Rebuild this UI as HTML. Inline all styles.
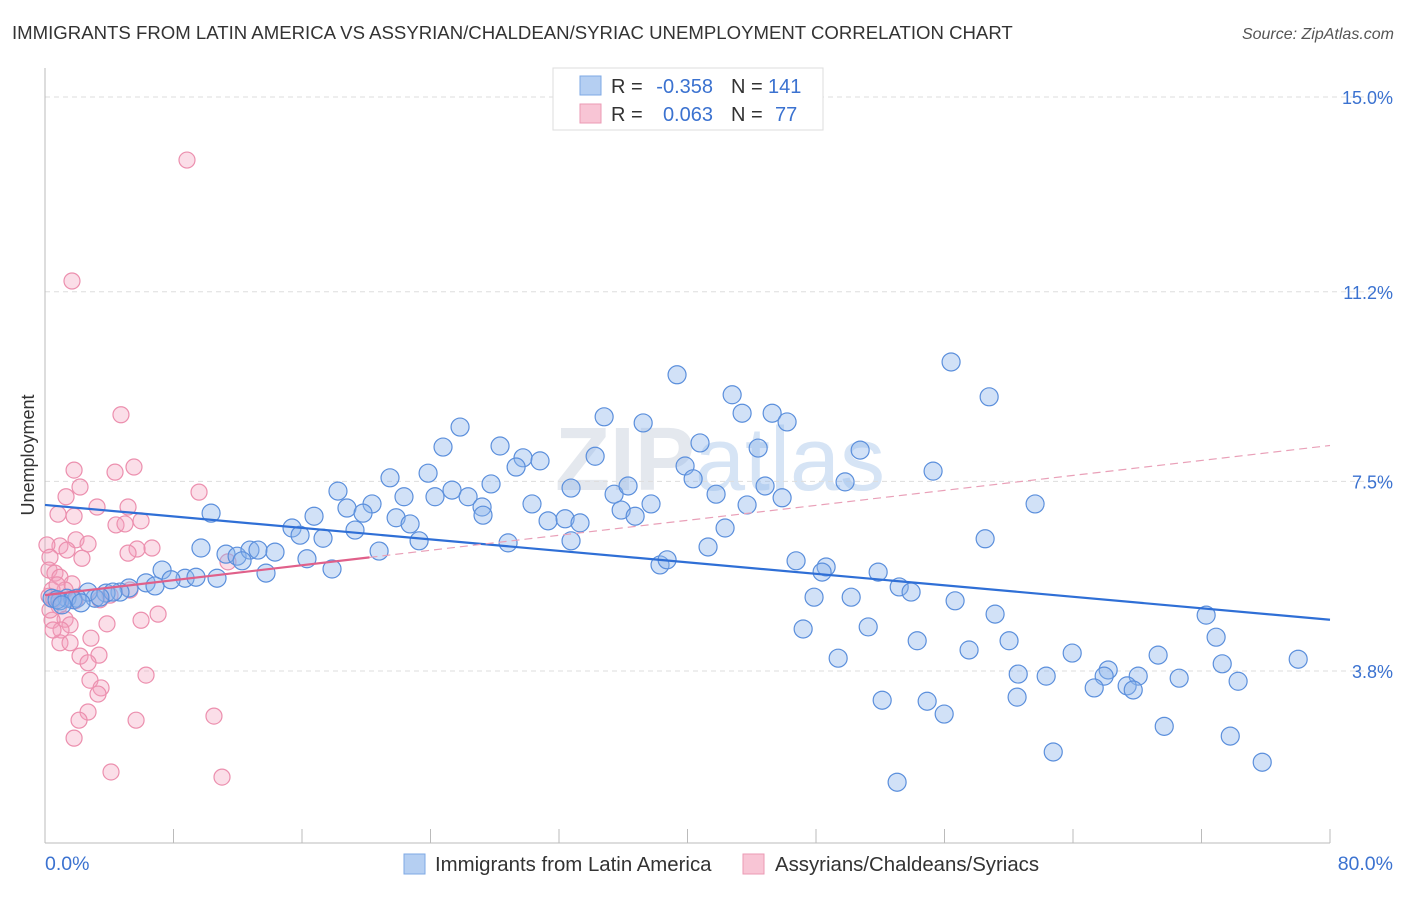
<!DOCTYPE html>
<html><head><meta charset="utf-8"><style>
body{margin:0;background:#fff;font-family:"Liberation Sans",sans-serif}
svg text{font-family:"Liberation Sans",sans-serif}
</style></head><body>
<svg id="chart" width="1406" height="892" xmlns="http://www.w3.org/2000/svg">
<text x="12" y="39" font-size="18.6" fill="#333">IMMIGRANTS FROM LATIN AMERICA VS ASSYRIAN/CHALDEAN/SYRIAC UNEMPLOYMENT CORRELATION CHART</text>
<text x="1394" y="39" font-size="16" fill="#555" text-anchor="end" font-style="italic">Source: ZipAtlas.com</text>
<text x="720" y="490" font-size="90" fill="#e4e8ee" text-anchor="middle" font-weight="bold">ZIP<tspan fill="#d6e4f5" font-weight="normal">atlas</tspan></text>
<g id="grid"></g>
<g id="axes"></g>
<g id="trend"></g>
<g id="pts"></g>
<text transform="translate(34,455) rotate(-90)" font-size="18" fill="#333" text-anchor="middle">Unemployment</text>
<g>
<rect x="553" y="68" width="270" height="62" fill="#fff" stroke="#ddd"/>
<rect x="580" y="76" width="21" height="19" fill="#b5cff2" stroke="#7ea8e4"/>
<rect x="580" y="104" width="21" height="19" fill="#f8c5d5" stroke="#eb9ab4"/>
<text x="611" y="93" font-size="20" fill="#333">R =</text>
<text x="713" y="93" font-size="20" fill="#3b72d0" text-anchor="end">-0.358</text>
<text x="731" y="93" font-size="20" fill="#333">N =</text>
<text x="768" y="93" font-size="20" fill="#3b72d0">141</text>
<text x="611" y="121" font-size="20" fill="#333">R =</text>
<text x="713" y="121" font-size="20" fill="#3b72d0" text-anchor="end">0.063</text>
<text x="731" y="121" font-size="20" fill="#333">N =</text>
<text x="775" y="121" font-size="20" fill="#3b72d0">77</text>
</g>
<g>
<rect x="404" y="854" width="21" height="20" fill="#b5cff2" stroke="#7ea8e4"/>
<text x="435" y="871" font-size="20.4" fill="#333">Immigrants from Latin America</text>
<rect x="743" y="854" width="21" height="20" fill="#f8c5d5" stroke="#eb9ab4"/>
<text x="775" y="871" font-size="20.4" fill="#333">Assyrians/Chaldeans/Syriacs</text>
</g>
</svg>
<script>
const yTicks=[15.0,11.2,7.5,3.8];
const yTickLabels=["15.0%","11.2%","7.5%","3.8%"];
const xTickVals=[0,8,16,24,32,40,48,56,64,72,80];
const xEndLabels=["0.0%","80.0%"];
const blueX=[39.35,56.41,58.78,42.78,34.81,37.24,43.40,45.27,46.20,25.84,24.78,28.33,40.78,44.40,50.75,29.76,30.82,34.25,29.33,39.85,23.85,21.48,18.24,55.29,27.77,25.34,26.34,22.35,24.28,20.36,18.80,19.80,27.21,27.27,30.32,32.75,35.43,36.30,37.73,35.87,40.35,41.78,44.83,45.89,43.71,49.81,61.64,10.34,16.75,21.86,22.73,31.32,32.38,33.31,36.74,15.38,19.30,15.88,17.31,23.29,28.83,32.75,42.34,58.53,9.71,11.27,11.96,12.76,13.26,14.32,12.27,16.31,20.80,41.28,38.29,38.73,46.76,48.63,48.38,51.87,7.29,8.72,9.40,10.71,13.76,17.87,7.85,6.29,6.85,5.23,4.67,3.80,3.11,2.68,1.99,1.37,0.93,0.44,1.74,4.23,53.18,53.92,47.88,50.19,56.66,72.29,59.15,47.20,51.25,72.91,54.30,60.02,57.53,63.95,69.30,78.02,49.38,73.29,66.19,60.59,62.33,65.94,68.06,70.61,65.32,67.37,67.75,74.28,60.52,52.12,54.92,55.98,69.68,73.79,62.77,75.78,53.05,0.75,1.06,2.24,3.42];
const blueY=[9.58,9.83,9.15,9.19,8.76,8.64,8.83,8.83,8.66,8.56,8.17,8.19,8.25,8.15,8.11,7.96,7.90,7.99,7.78,7.80,7.66,7.57,7.31,7.70,7.45,7.33,7.20,7.20,7.20,7.06,6.98,6.88,7.00,6.84,7.06,7.37,7.25,7.41,7.06,6.94,7.55,7.25,7.41,7.18,7.04,7.49,7.06,6.88,6.82,6.79,6.67,6.73,6.77,6.69,6.82,6.59,6.55,6.45,6.39,6.34,6.30,6.34,6.59,6.38,6.20,6.08,6.04,6.16,6.16,6.12,5.95,5.99,6.14,6.22,5.87,5.97,5.95,5.83,5.73,5.73,5.77,5.61,5.63,5.61,5.71,5.79,5.58,5.52,5.46,5.42,5.34,5.32,5.22,5.34,5.22,5.22,5.17,5.22,5.19,5.34,5.44,5.34,5.24,5.24,5.17,4.89,4.91,4.62,4.66,4.46,4.39,4.39,4.21,4.15,4.11,4.03,4.05,3.94,3.82,3.74,3.70,3.70,3.70,3.66,3.47,3.51,3.43,3.60,3.29,3.23,3.21,2.96,2.72,2.53,2.22,2.02,1.63,5.19,5.09,5.13,5.24];
const pinkX=[8.84,1.68,4.73,1.81,5.54,4.36,9.59,2.18,1.31,3.24,5.17,0.81,1.81,5.98,4.42,4.98,0.93,1.93,2.68,6.66,5.73,5.17,0.12,1.37,0.31,2.30,11.39,0.25,0.62,0.93,1.68,1.25,0.44,0.25,5.29,0.56,0.87,1.87,4.05,7.04,5.98,1.25,1.56,0.44,3.86,1.00,2.86,0.93,1.56,3.36,2.18,2.68,6.29,2.80,3.49,3.30,2.68,2.12,5.67,10.52,1.81,4.11,11.02,0.31,0.50,0.75,3.42];
const pinkY=[13.77,11.41,8.80,7.72,7.78,7.68,7.29,7.39,7.20,7.00,7.00,6.86,6.82,6.73,6.65,6.67,6.24,6.36,6.28,6.20,6.18,6.10,6.26,6.16,6.02,6.00,5.93,5.77,5.71,5.63,5.50,5.38,5.38,5.26,5.38,5.19,5.07,5.17,5.28,4.91,4.79,4.81,4.70,4.79,4.72,4.60,4.44,4.35,4.35,4.11,4.09,3.96,3.72,3.62,3.47,3.35,3.00,2.84,2.84,2.92,2.49,1.83,1.73,4.99,4.60,5.48,5.19];
const blueTrend=[7.04,4.80];
const pinkTrend=[5.28,8.20];
const pinkSolidEnd=20.2;

const NS="http://www.w3.org/2000/svg";
const X=v=>45+v/80*1285;
const Y=v=>97+(15-v)*51.25;
function mk(tag,attrs,parent){const e=document.createElementNS(NS,tag);for(const k in attrs)e.setAttribute(k,attrs[k]);document.getElementById(parent).appendChild(e);return e;}
yTicks.forEach((t,i)=>{
  const l=mk('line',{x1:45,x2:1395,y1:Y(t),y2:Y(t),stroke:'#ddd','stroke-dasharray':'5,4'},'grid');
  
  
  const tx=mk('text',{x:1393,y:Y(t)+7,'font-size':18,fill:'#3b72d0','text-anchor':'end'},'grid');
  tx.textContent=yTickLabels[i];
  
  
});
const ax=mk('line',{x1:45,x2:45,y1:68,y2:843,stroke:'#bbb'},'axes');


const bx=mk('line',{x1:45,x2:1330,y1:843,y2:843,stroke:'#bbb'},'axes');


xTickVals.forEach(v=>{
  const t=mk('line',{x1:X(v),x2:X(v),y1:829,y2:843,stroke:'#bbb'},'axes');
  
  
});
[[0,'start'],[80,'end']].forEach((p,i)=>{
  const t=mk('text',{x:X(p[0])+(i?63:0),y:870,'font-size':19.5,fill:'#3b72d0','text-anchor':p[1]},'axes');
  t.textContent=xEndLabels[i];
  
  
});
pinkX.forEach((x,i)=>{
  const c=mk('circle',{cx:X(x),cy:Y(pinkY[i]),r:8,fill:'rgba(244,160,188,0.35)',stroke:'#ec8fae','stroke-width':1.2},'pts');
  
  
});
blueX.forEach((x,i)=>{
  const c=mk('circle',{cx:X(x),cy:Y(blueY[i]),r:9,fill:'rgba(140,180,235,0.4)',stroke:'#5b8fdc','stroke-width':1.2},'pts');
  
  
});
const bt=mk('line',{x1:X(0),y1:Y(blueTrend[0]),x2:X(80),y2:Y(blueTrend[1]),stroke:'#2f6fd6','stroke-width':2.2},'pts');


const pm=pinkTrend[0]+(pinkTrend[1]-pinkTrend[0])*pinkSolidEnd/80;
const pd=mk('line',{x1:X(pinkSolidEnd),y1:Y(pm),x2:X(80),y2:Y(pinkTrend[1]),stroke:'#e9a0b8','stroke-width':1.2,'stroke-dasharray':'8,5'},'pts');


const ps=mk('line',{x1:X(0),y1:Y(pinkTrend[0]),x2:X(pinkSolidEnd),y2:Y(pm),stroke:'#e0608a','stroke-width':2.2},'pts');


</script>
</body></html>
